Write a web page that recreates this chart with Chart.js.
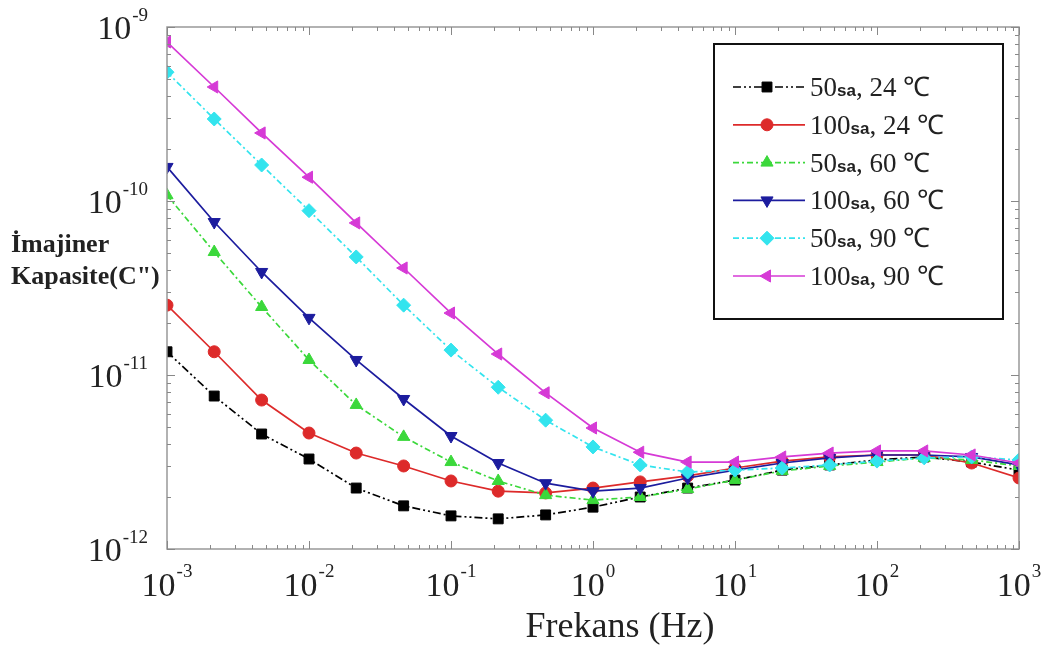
<!DOCTYPE html>
<html><head><meta charset="utf-8">
<script src="https://cdn.jsdelivr.net/npm/chart.js@4.4.1/dist/chart.umd.min.js"></script>
<style>html,body{margin:0;padding:0;background:#fff;}#wrap{width:1052px;height:650px;position:relative;}</style>
</head><body><div id="wrap"><canvas id="c" width="1052" height="650"></canvas></div>
<script>
// ---- data ----
const frequencies = [0.001,0.00215,0.00464,0.01,0.0215,0.0464,0.1,0.215,0.464,1,2.15,4.64,10,21.5,46.4,100,215,464,1000];
const c50h24 = [1.36e-11,7.57e-12,4.58e-12,3.29e-12,2.24e-12,1.77e-12,1.55e-12,1.49e-12,1.57e-12,1.74e-12,1.99e-12,2.24e-12,2.49e-12,2.84e-12,3.04e-12,3.25e-12,3.38e-12,3.16e-12,2.84e-12];
const c100h24 = [2.52e-11,1.36e-11,7.18e-12,4.64e-12,3.56e-12,3.0e-12,2.46e-12,2.15e-12,2.1e-12,2.24e-12,2.43e-12,2.63e-12,2.92e-12,3.2e-12,3.38e-12,3.47e-12,3.47e-12,3.12e-12,2.56e-12];
const c50h60 = [1.08e-10,5.09e-11,2.46e-11,1.22e-11,6.73e-12,4.41e-12,3.16e-12,2.46e-12,2.04e-12,1.91e-12,1.99e-12,2.21e-12,2.49e-12,2.81e-12,3.0e-12,3.16e-12,3.34e-12,3.25e-12,3.0e-12];
const c100h60 = [1.57e-10,7.57e-11,3.91e-11,2.13e-11,1.22e-11,7.28e-12,4.46e-12,3.12e-12,2.39e-12,2.15e-12,2.24e-12,2.56e-12,2.84e-12,3.12e-12,3.34e-12,3.47e-12,3.47e-12,3.38e-12,3.04e-12];
const c50h90 = [5.5e-10,2.96e-10,1.61e-10,8.8e-11,4.77e-11,2.52e-11,1.39e-11,8.5e-12,5.5e-12,3.86e-12,3.04e-12,2.77e-12,2.84e-12,2.92e-12,3.04e-12,3.2e-12,3.34e-12,3.38e-12,3.25e-12];
const c100h90 = [8.2e-10,4.52e-10,2.46e-10,1.37e-10,7.48e-11,4.12e-11,2.27e-11,1.32e-11,7.9e-12,4.96e-12,3.6e-12,3.16e-12,3.16e-12,3.38e-12,3.56e-12,3.66e-12,3.66e-12,3.47e-12,3.12e-12];

const seriesHours = ['50','100','50','100','50','100'];
const seriesTemps = ['24','24','60','60','90','90'];
const xTickValues = [1e-3,1e-2,1e-1,1,10,100,1000];
const xTickExponents = ['-3','-2','-1','0','1','2','3'];
const yTickValues = [1e-12,1e-11,1e-10,1e-9];
const yTickExponents = ['-12','-11','-10','-9'];
const tickBase = '10';
const xTitle = 'Frekans (Hz)';
const yTitleLines = ['\u0130majiner','Kapasite(C")'];

// ---- styles ----
const styles = [
  {color:'#000000', dash:[8,3,2,3,2,3], point:'rect', rot:0, r:7},
  {color:'#dd2a2a', dash:[], point:'circle', rot:0, r:6},
  {color:'#3bd83b', dash:[6,3,2,3], point:'triangle', rot:0, r:7},
  {color:'#1c1c9e', dash:[], point:'triangle', rot:180, r:7},
  {color:'#33e4ee', dash:[6,3,2,3], point:'rectRot', rot:0, r:7},
  {color:'#d63ad6', dash:[], point:'triangle', rot:-90, r:7}
];
const seriesValues = [c50h24,c100h24,c50h60,c100h60,c50h90,c100h90];

const datasets = seriesValues.map((vals,i)=>({
  label: seriesHours[i]+'sa, '+seriesTemps[i]+' \u2103',
  data: frequencies.map((f,j)=>({x:f,y:vals[j]})),
  borderColor: styles[i].color,
  backgroundColor: styles[i].color,
  borderWidth: 1.7,
  borderDash: styles[i].dash,
  pointStyle: styles[i].point,
  rotation: styles[i].rot,
  pointRadius: styles[i].r,
  pointBorderWidth: 1,
  pointBackgroundColor: styles[i].color,
  pointBorderColor: styles[i].color,
  tension: 0,
  order: 6 - i
}));

const BASE_FONT = '34px "Liberation Serif"';
const EXP_FONT = '19px "Liberation Serif"';

const decor = {
  id:'decor',
  afterDraw(chart){
    const ctx = chart.ctx, a = chart.chartArea, xs = chart.scales.x, ys = chart.scales.y;
    ctx.save();
    // frame
    ctx.strokeStyle = '#999'; ctx.lineWidth = 1.5; ctx.setLineDash([]);
    ctx.strokeRect(a.left, a.top, a.right-a.left, a.bottom-a.top);
    // inner ticks
    ctx.lineWidth = 1; ctx.strokeStyle = '#888';
    ctx.beginPath();
    for (let e=-3;e<=3;e++){
      for (let m=1;m<=9;m++){
        const v = m*Math.pow(10,e); if (v>1000*1.0001) break;
        const px = Math.round(xs.getPixelForValue(v))+0.5; const L = m===1?8:4;
        ctx.moveTo(px,a.bottom); ctx.lineTo(px,a.bottom-L);
        ctx.moveTo(px,a.top); ctx.lineTo(px,a.top+L);
      }
    }
    for (let e=-12;e<=-9;e++){
      for (let m=1;m<=9;m++){
        const v = m*Math.pow(10,e); if (v>1e-9*1.0001) break;
        const py = Math.round(ys.getPixelForValue(v))+0.5; const L = m===1?8:4;
        ctx.moveTo(a.left,py); ctx.lineTo(a.left+L,py);
        ctx.moveTo(a.right,py); ctx.lineTo(a.right-L,py);
      }
    }
    ctx.stroke();
    // tick labels
    ctx.fillStyle = '#222'; ctx.textBaseline = 'alphabetic'; ctx.textAlign = 'left';
    xTickValues.forEach((v,i)=>{
      const px = xs.getPixelForValue(v);
      ctx.font = BASE_FONT; const wb = ctx.measureText(tickBase).width;
      ctx.font = EXP_FONT; const we = ctx.measureText(xTickExponents[i]).width;
      const x0 = px - (wb + 1 + we)/2;
      ctx.font = BASE_FONT; ctx.fillText(tickBase, x0, a.bottom + 47);
      ctx.font = EXP_FONT; ctx.fillText(xTickExponents[i], x0 + wb + 1, a.bottom + 28);
    });
    yTickValues.forEach((v,i)=>{
      const py = ys.getPixelForValue(v);
      ctx.font = BASE_FONT; const wb = ctx.measureText(tickBase).width;
      ctx.font = EXP_FONT; const we = ctx.measureText(yTickExponents[i]).width;
      const xr = a.left - 19;
      const x0 = xr - we - 1 - wb;
      ctx.font = BASE_FONT; ctx.fillText(tickBase, x0, py + 12);
      ctx.font = EXP_FONT; ctx.fillText(yTickExponents[i], x0 + wb + 1, py - 6);
    });
    // axis titles
    ctx.fillStyle = '#222';
    ctx.font = '36px "Liberation Serif"';
    ctx.textAlign = 'center'; ctx.textBaseline = 'alphabetic';
    ctx.fillText(xTitle, 620, 637);
    ctx.font = 'bold 26px "Liberation Serif"';
    ctx.textAlign = 'left';
    ctx.fillText(yTitleLines[0], 11, 252);
    ctx.fillText(yTitleLines[1], 11, 284);
    // legend
    const bx=714, by=44, bw=289, bh=275;
    ctx.fillStyle='#fff'; ctx.fillRect(bx,by,bw,bh);
    ctx.strokeStyle='#111'; ctx.lineWidth=2; ctx.strokeRect(bx,by,bw,bh);
    chart.data.datasets.forEach((ds,i)=>{
      const cy = 87 + i*37.8;
      ctx.strokeStyle = ds.borderColor; ctx.lineWidth = 1.7; ctx.setLineDash(ds.borderDash);
      ctx.beginPath(); ctx.moveTo(733,cy); ctx.lineTo(805,cy); ctx.stroke();
      ctx.setLineDash([]);
      ctx.fillStyle = ds.borderColor; ctx.strokeStyle = ds.borderColor; ctx.lineWidth = 1;
      Chart.helpers.drawPoint(ctx,{pointStyle:ds.pointStyle, rotation:ds.rotation, radius: ds.pointRadius, borderWidth:1}, 767, cy);
      let x = 810; const base = cy + 9;
      ctx.fillStyle = '#222'; ctx.textAlign='left';
      ctx.font = '27px "Liberation Serif"';
      ctx.fillText(seriesHours[i], x, base); x += ctx.measureText(seriesHours[i]).width;
      ctx.font = 'bold 17px "Liberation Sans"';
      ctx.fillText('sa', x, base); x += ctx.measureText('sa').width;
      ctx.font = '27px "Liberation Serif"';
      const rest = ', '+seriesTemps[i]+' \u2103';
      ctx.fillText(rest, x, base);
    });
    ctx.restore();
  }
};

new Chart(document.getElementById('c'), {
  type:'line',
  data:{datasets},
  options:{
    responsive:false, animation:false, devicePixelRatio:1,
    layout:{padding:{left:0, top:27, right:33, bottom:0}},
    plugins:{legend:{display:false}, tooltip:{enabled:false}, title:{display:false}},
    elements:{line:{tension:0}},
    scales:{
      x:{type:'logarithmic', min:1e-3, max:1e3,
        afterBuildTicks:s=>{s.ticks = xTickValues.map(v=>({value:v}));},
        afterFit:s=>{s.height = 101; s.paddingLeft = 0; s.paddingRight = 0;},
        grid:{display:false, drawTicks:false}, border:{display:false},
        ticks:{display:false}
      },
      y:{type:'logarithmic', min:1e-12, max:1e-9,
        afterBuildTicks:s=>{s.ticks = yTickValues.map(v=>({value:v}));},
        afterFit:s=>{s.width = 167; s.paddingTop = 0; s.paddingBottom = 0;},
        grid:{display:false, drawTicks:false}, border:{display:false},
        ticks:{display:false}
      }
    }
  },
  plugins:[decor]
});
</script></body></html>
